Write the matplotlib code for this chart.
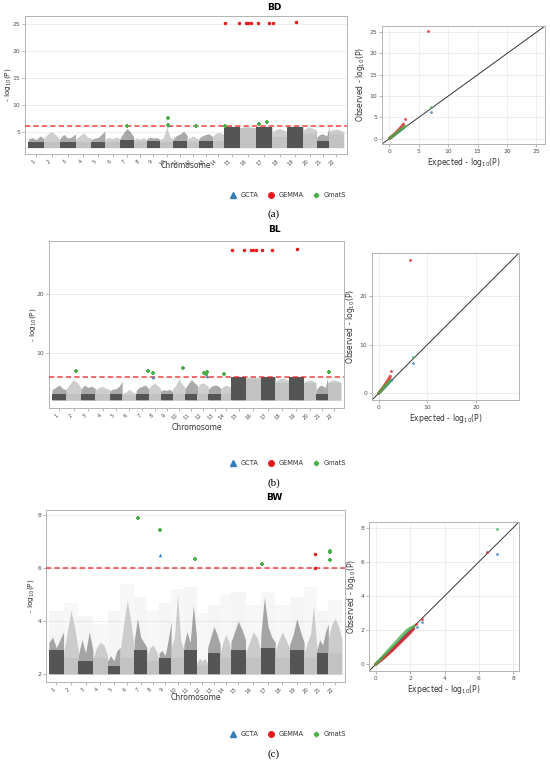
import numpy as np
import matplotlib
matplotlib.use('Agg')
import matplotlib.pyplot as plt
from matplotlib.lines import Line2D

W, H = 550, 763

# ---- data -------------------------------------------------------------
chrom_names = [str(i) for i in range(1, 23)]
chrom_len = [145, 145, 145, 145, 125, 140, 125, 120, 120, 125, 125, 110,
             125, 105, 145, 150, 145, 140, 145, 125, 115, 135]

methods = ['GCTA', 'GEMMA', 'GmatS']
colors = {'GCTA': '#377EB8', 'GEMMA': '#E41A1C', 'GmatS': '#4DAF4A'}
traits = ['BD', 'BL', 'BW']
captions = ['(a)', '(b)', '(c)']
threshold = 6

# dense core height of each chromosome (-log10 P)
core_bd = [3.1, 3.0, 3.1, 3.0, 3.1, 3.0, 3.4, 3.0, 3.2, 3.0, 3.3, 3.0,
           3.2, 3.2, 5.9, 5.6, 5.9, 4.0, 5.9, 4.5, 3.2, 4.5]
core_bl = [3.0, 3.0, 3.0, 3.0, 3.0, 2.9, 3.0, 3.0, 3.0, 3.0, 3.0, 3.0,
           3.0, 3.0, 5.9, 5.7, 5.9, 5.0, 5.9, 5.0, 3.0, 5.0]
core_bw = [2.9, 2.6, 2.5, 2.6, 2.3, 2.6, 2.9, 2.5, 2.6, 2.6, 2.9, 2.3,
           2.8, 2.6, 2.9, 2.6, 3.0, 2.6, 2.9, 2.6, 2.8, 2.8]

# upper envelope of the SNP cloud along each chromosome
peaks_bd = [[3.6, 3.9, 3.5, 4.2, 3.7], [3.8, 4.6, 5.0, 4.4, 3.6],
            [3.7, 4.5, 3.8, 4.0, 4.6], [3.6, 4.2, 4.8, 4.0, 3.8],
            [3.5, 3.8, 3.9, 4.5, 5.1], [3.6, 3.9, 3.7, 4.0, 3.6],
            [3.8, 4.8, 5.6, 5.0, 4.0], [3.5, 3.8, 3.6, 3.9, 3.5],
            [3.6, 4.0, 3.8, 3.9, 3.6], [3.5, 3.8, 5.9, 4.0, 3.6],
            [3.8, 4.3, 4.6, 5.1, 4.3], [3.6, 3.9, 4.2, 3.8, 3.6],
            [3.8, 4.2, 4.5, 4.6, 4.0], [4.2, 4.6, 4.9, 4.7, 4.5],
            [6.0, 6.0, 6.0, 6.0, 5.9], [5.6, 5.9, 6.0, 5.8, 5.7],
            [6.0, 6.0, 6.0, 6.0, 5.9], [5.0, 5.4, 5.6, 5.3, 5.0],
            [5.9, 6.0, 6.0, 6.0, 5.9], [5.3, 5.7, 5.8, 5.6, 5.3],
            [3.9, 4.4, 4.6, 4.5, 4.2, 6.0], [5.1, 5.4, 5.5, 5.3, 5.0]]
peaks_bl = [[3.8, 4.2, 4.6, 4.0, 3.8], [4.0, 4.8, 5.5, 5.0, 4.2],
            [3.9, 4.6, 4.2, 4.4, 4.0], [3.8, 4.2, 4.4, 4.0, 3.9],
            [3.6, 3.9, 4.0, 4.4, 5.2], [3.2, 3.4, 3.9, 3.4, 3.2],
            [3.7, 4.2, 4.4, 4.6, 4.0], [4.0, 4.6, 4.9, 4.5, 4.0],
            [3.6, 3.8, 3.7, 3.9, 3.5], [4.0, 4.5, 5.7, 4.8, 4.2],
            [4.0, 4.8, 5.5, 5.0, 4.5], [4.2, 4.8, 5.0, 4.7, 4.3],
            [3.9, 4.4, 4.6, 4.5, 4.0], [4.0, 4.4, 4.6, 4.4, 4.2],
            [6.0, 6.0, 6.0, 6.0, 5.9], [5.8, 6.0, 6.0, 5.9, 5.8],
            [6.0, 6.0, 6.0, 6.0, 5.9], [5.2, 5.6, 5.8, 5.6, 5.3],
            [5.9, 6.0, 6.0, 6.0, 5.9], [5.0, 5.4, 5.5, 5.3, 5.0],
            [3.8, 4.3, 4.6, 4.4, 4.2, 6.0], [5.0, 5.4, 5.5, 5.3, 5.0]]
peaks_bw = [[3.2, 3.4, 3.0, 3.3, 3.6], [2.8, 3.6, 4.4, 3.8, 2.9],
            [2.7, 3.3, 2.8, 3.6, 2.9], [2.6, 3.0, 3.2, 3.1, 2.7],
            [2.5, 2.7, 2.5, 2.9, 3.0], [2.9, 3.9, 4.8, 4.0, 3.0],
            [3.3, 4.1, 3.4, 3.2, 3.0], [2.7, 3.0, 3.1, 2.9, 2.6],
            [2.8, 2.9, 2.7, 3.3, 4.0], [3.0, 3.4, 5.0, 3.3, 2.9],
            [3.1, 3.6, 3.2, 4.6, 3.4], [2.4, 2.6, 2.5, 2.6, 2.4],
            [3.0, 3.4, 3.8, 3.5, 3.1], [2.8, 3.2, 3.5, 3.3, 2.9],
            [3.2, 3.6, 4.0, 3.7, 3.3], [2.8, 3.2, 3.6, 3.4, 2.9],
            [3.4, 4.9, 3.8, 3.4, 3.2], [2.9, 3.3, 3.6, 3.3, 3.0],
            [3.1, 3.5, 4.1, 3.6, 3.2], [2.8, 3.2, 3.5, 4.6, 3.0],
            [2.9, 3.3, 3.1, 3.6, 3.9], [3.4, 3.9, 4.1, 3.8, 3.3]]
# sparse scatter top (BW only)
haze_bw = [4.4, 4.7, 4.2, 3.9, 4.4, 5.4, 4.9, 4.4, 4.7, 5.2, 5.3, 4.3,
           4.6, 5.0, 5.1, 4.6, 5.1, 4.6, 4.9, 5.3, 4.4, 4.8]

# significant SNPs: (method, chromosome, relative position, -log10 P)
sig_bd = [('GEMMA', 15, 0.08, 25.2), ('GEMMA', 15, 0.92, 25.2), ('GEMMA', 16, 0.40, 25.2),
          ('GEMMA', 16, 0.52, 25.2), ('GEMMA', 16, 0.70, 25.2), ('GEMMA', 17, 0.13, 25.2),
          ('GEMMA', 17, 0.83, 25.2), ('GEMMA', 18, 0.08, 25.2), ('GEMMA', 19, 0.56, 25.4),
          ('GmatS', 7, 0.50, 6.1), ('GmatS', 10, 0.59, 7.5), ('GmatS', 10, 0.59, 6.3),
          ('GmatS', 12, 0.77, 6.0), ('GmatS', 15, 0.06, 6.0), ('GmatS', 17, 0.15, 6.45),
          ('GmatS', 17, 0.66, 6.8), ('GCTA', 10, 0.59, 6.3)]
sig_bl = [('GEMMA', 15, 0.07, 27.4), ('GEMMA', 15, 0.88, 27.4), ('GEMMA', 16, 0.37, 27.4),
          ('GEMMA', 16, 0.51, 27.4), ('GEMMA', 16, 0.67, 27.4), ('GEMMA', 17, 0.11, 27.4),
          ('GEMMA', 17, 0.77, 27.4), ('GEMMA', 19, 0.54, 27.65),
          ('GmatS', 2, 0.65, 7.0), ('GmatS', 7, 0.92, 7.0), ('GmatS', 8, 0.39, 6.6),
          ('GmatS', 10, 0.86, 7.4), ('GmatS', 12, 0.55, 6.6), ('GmatS', 12, 0.82, 6.45),
          ('GmatS', 12, 0.91, 6.75), ('GmatS', 14, 0.25, 6.4), ('GmatS', 22, 0.13, 6.75),
          ('GCTA', 8, 0.39, 6.0), ('GCTA', 12, 0.91, 6.05)]
sig_bw = [('GmatS', 7, 0.32, 7.9), ('GmatS', 9, 0.06, 7.45), ('GmatS', 11, 0.87, 6.35),
          ('GmatS', 17, 0.11, 6.15), ('GmatS', 22, 0.13, 6.63), ('GmatS', 22, 0.13, 6.6),
          ('GmatS', 22, 0.13, 6.3), ('GCTA', 9, 0.06, 6.5),
          ('GEMMA', 20, 0.82, 6.55), ('GEMMA', 20, 0.82, 6.02)]

# QQ curves: expected / observed -log10 P per method
qq_bd = {'GCTA': ([0, 0.6, 1.2, 1.8, 2.4], [0, 0.62, 1.25, 1.9, 2.55]),
         'GmatS': ([0, 0.6, 1.2, 1.8, 2.4, 2.7], [0, 0.65, 1.3, 1.95, 2.6, 2.9]),
         'GEMMA': ([0, 0.6, 1.2, 1.8, 2.2, 2.4], [0, 0.75, 1.5, 2.4, 3.0, 3.4])}
qq_bl = {'GCTA': ([0, 0.6, 1.2, 1.8, 2.4, 2.7], [0, 0.6, 1.2, 1.85, 2.5, 2.7]),
         'GmatS': ([0, 0.6, 1.2, 1.8, 2.4], [0, 0.7, 1.35, 2.0, 2.6]),
         'GEMMA': ([0, 0.6, 1.2, 1.8, 2.2, 2.4], [0, 0.8, 1.6, 2.5, 3.1, 3.5])}
qq_bw = {'GCTA': ([0, 0.5, 1.0, 1.5, 2.0, 2.2], [0, 0.45, 0.9, 1.4, 1.9, 2.1]),
         'GEMMA': ([0, 0.5, 1.0, 1.5, 2.0, 2.2], [0, 0.4, 0.85, 1.35, 1.85, 2.1]),
         'GmatS': ([0, 0.5, 1.0, 1.5, 1.9, 2.1, 2.25], [0, 0.55, 1.1, 1.65, 2.05, 2.15, 2.25])}
# QQ tail points
qq_hits_bd = [('GEMMA', 2.68, 4.5), ('GEMMA', 6.5, 25.2), ('GmatS', 7.1, 7.4), ('GCTA', 7.0, 6.3)]
qq_hits_bl = [('GEMMA', 2.6, 4.55), ('GEMMA', 6.35, 27.5), ('GmatS', 7.0, 7.4), ('GCTA', 7.0, 6.15)]
qq_hits_bw = [('GCTA', 2.4, 2.18), ('GCTA', 2.69, 2.47), ('GCTA', 7.03, 6.45),
              ('GEMMA', 2.34, 2.37), ('GEMMA', 2.69, 2.62), ('GEMMA', 6.48, 6.55),
              ('GmatS', 7.03, 7.93)]

yticks_man = [[5, 10, 15, 20, 25], [10, 20], [2, 4, 6, 8]]
ticks_qq = [[0, 5, 10, 15, 20, 25], [0, 10, 20], [0, 2, 4, 6, 8]]

# ---- layout (pixel boxes: left, right, top, bottom) --------------------
man_box = [(25, 347, 16, 154), (49, 344, 241, 408), (46, 345, 510, 682)]
qq_box = [(382, 545, 26, 144), (372, 519, 253, 400), (369, 519, 522, 671)]
ylab_x = [13, 38, 36]
title_y = [7, 229, 498]
chromlab_y = [166, 427, 697]
legend_y = [195, 463, 734]
caption_y = [214, 483, 754]

DARK, LIGHT = '#555555', '#c2c2c2'
TXT = '#4d4d4d'
markers = {'GCTA': '^', 'GEMMA': 'o', 'GmatS': 'P'}
msize = {'GCTA': 9, 'GEMMA': 9, 'GmatS': 7}


def to_fig(b):
    l, r, t, bt = b
    return [l / W, 1 - bt / H, (r - l) / W, (bt - t) / H]


def style(ax):
    for s in ax.spines.values():
        s.set_color('#b3b3b3')
        s.set_linewidth(0.7)
    ax.tick_params(labelsize=4.3, colors=TXT, length=2, width=0.5, pad=1.5)
    ax.tick_params(axis='both', color='#999999')
    ax.set_axisbelow(True)


fig = plt.figure(figsize=(W / 100, H / 100), dpi=100)

starts = np.concatenate([[0], np.cumsum(chrom_len)[:-1]])
total = sum(chrom_len)
centers = starts + np.array(chrom_len) / 2

cores = [core_bd, core_bl, core_bw]
peaks = [peaks_bd, peaks_bl, peaks_bw]
sigs = [sig_bd, sig_bl, sig_bw]
qqs = [qq_bd, qq_bl, qq_bw]
qq_hits = [qq_hits_bd, qq_hits_bl, qq_hits_bw]
base = 2.0

for p in range(3):
    # Manhattan
    ax = fig.add_axes(to_fig(man_box[p]))
    style(ax)
    for i in range(22):
        dark = i % 2 == 0
        col = DARK if dark else LIGHT
        s, L = starts[i], chrom_len[i]
        env = peaks[p][i]
        xs = np.linspace(s, s + L, len(env))
        if p == 2:
            ax.bar(centers[i], haze_bw[i] - base, width=L, bottom=base,
                   color=col, alpha=0.06 if dark else 0.12, linewidth=0)
        ax.fill_between(xs, base, env, color=col, alpha=0.5 if dark else 0.8,
                        linewidth=0)
        ax.bar(centers[i], cores[p][i] - base, width=L, bottom=base,
               color=col, linewidth=0)
    ax.axhline(threshold, color='#ee2222', lw=1.1, ls=(0, (3.5, 2)), alpha=0.85, zorder=3)
    top = max(v[3] for v in sigs[p])
    for m in methods:
        pts = [v for v in sigs[p] if v[0] == m]
        if not pts:
            continue
        xs = [starts[c - 1] + f * chrom_len[c - 1] for _, c, f, _ in pts]
        ys = [v[3] for v in pts]
        ax.scatter(xs, ys, marker=markers[m], s=msize[m] * 0.7, color=colors[m],
                   linewidths=0, zorder=4)
    span = top - base
    ax.set_ylim(base - 0.05 * span, top + 0.05 * span)
    ax.set_xlim(-0.01 * total, total * 1.01)
    ax.set_yticks(yticks_man[p])
    ax.grid(axis='y', color='#ebebeb', lw=0.6)
    ax.set_xticks(centers)
    ax.set_xticklabels(chrom_names, rotation=45, ha='right', fontsize=3.8)
    l, r, t, b = man_box[p]
    ax.set_ylabel('- log$_{10}$(P)', fontsize=5.3, color='#333333')
    ax.yaxis.set_label_coords((ylab_x[p] - l) / (r - l), 0.5)
    fig.text((l + r) / 2 / W, 1 - chromlab_y[p] / H, 'Chromosome', ha='center',
             va='center', fontsize=5.5, color='#333333')

    # QQ plot
    qa = fig.add_axes(to_fig(qq_box[p]))
    style(qa)
    hi = max(max(h[1], h[2]) for h in qq_hits[p])
    lo, hi2 = -0.05 * hi, hi * 1.05
    qa.set_xlim(lo, hi2)
    qa.set_ylim(lo, hi2)
    qa.grid(color='#ebebeb', lw=0.6)
    qa.plot([lo, hi2], [lo, hi2], color='#333333', lw=0.7, zorder=2)
    for m in methods:
        ex, ob = qqs[p][m]
        qa.plot(ex, ob, color=colors[m], lw=2.2, alpha=0.8, solid_capstyle='round', zorder=3)
    for m, ex, ob in qq_hits[p]:
        qa.scatter([ex], [ob], s=4, color=colors[m], alpha=0.8, linewidths=0, zorder=4)
    qa.set_xticks(ticks_qq[p])
    qa.set_yticks(ticks_qq[p])
    qa.set_xlabel('Expected - log$_{10}$(P)', fontsize=5.5, color='#333333', labelpad=1.5)
    qa.set_ylabel('Observed - log$_{10}$(P)', fontsize=5.5, color='#333333', labelpad=1.5)

    # title, legend, caption
    fig.text(274 / W, 1 - title_y[p] / H, traits[p], ha='center', va='center',
             fontsize=6.5, fontweight='bold')
    handles = [Line2D([], [], ls='none', marker=markers[m], color=colors[m],
                      markersize=4 if m != 'GmatS' else 3, label=m) for m in methods]
    fig.legend(handles=handles, loc='center', ncol=3, frameon=False,
               bbox_to_anchor=(288 / W, 1 - legend_y[p] / H), fontsize=4.8,
               handletextpad=0.6, columnspacing=1.4, handlelength=1.0,
               labelcolor='#333333')
    fig.text(274 / W, 1 - caption_y[p] / H, captions[p], ha='center', va='center',
             fontsize=8, family='Liberation Serif')

fig.savefig('out.png', dpi=100)
